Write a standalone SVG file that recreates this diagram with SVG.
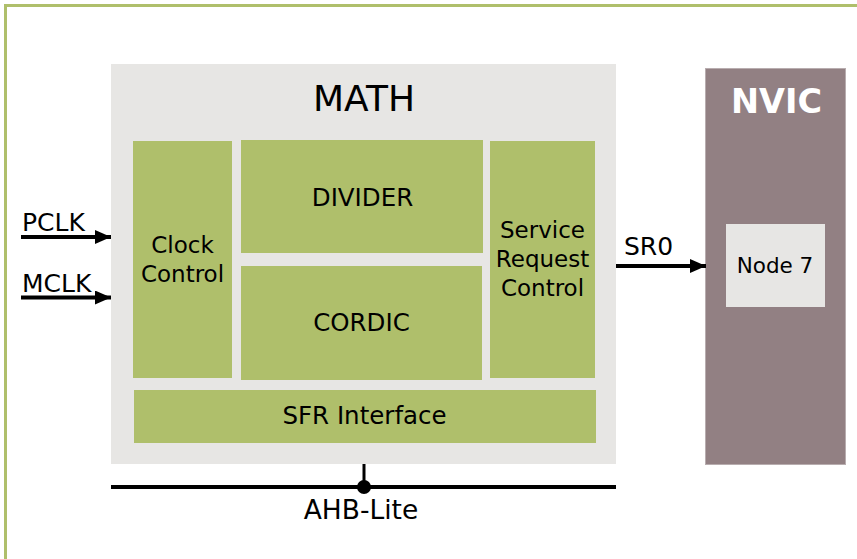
<svg xmlns="http://www.w3.org/2000/svg" width="857" height="559" viewBox="0 0 857 559">
  <defs>
    <style>
      text { font-family: "DejaVu Sans", Verdana, sans-serif; fill: #000; }
      .blk { fill: #afbf6b; }
      .lbl { font-size: 23px; text-anchor: middle; }
      .cap { font-size: 24.5px; text-anchor: middle; }
      .sig { font-size: 25px; }
      .wire { stroke: #000; stroke-width: 4; fill: none; }
    </style>
    <marker id="arrow" viewBox="0 0 16 14" refX="16" refY="7" markerWidth="16" markerHeight="14" markerUnits="userSpaceOnUse" orient="auto">
      <path d="M0,0 L16,7 L0,14 Z" fill="#000"/>
    </marker>
  </defs>

  <rect width="857" height="559" fill="#fff"/>
  <!-- outer frame -->
  <rect x="5.5" y="5.5" width="870" height="580" fill="none" stroke="#afbf6b" stroke-width="3"/>

  <!-- MATH module -->
  <g id="math">
    <rect x="111" y="64" width="505" height="400" fill="#e7e6e4"/>
    <text x="364" y="111" style="font-size:36px" text-anchor="middle">MATH</text>
  </g>

  <g id="clock-control">
    <rect class="blk" x="133" y="141" width="99" height="237"/>
    <text class="lbl" x="182.5" y="253">Clock</text>
    <text class="lbl" x="182.5" y="281.5">Control</text>
  </g>

  <g id="divider">
    <rect class="blk" x="241" y="140" width="242" height="113"/>
    <text class="cap" x="362.5" y="206">DIVIDER</text>
  </g>

  <g id="cordic">
    <rect class="blk" x="241" y="266" width="241" height="114"/>
    <text class="cap" x="361.5" y="331">CORDIC</text>
  </g>

  <g id="service-request-control">
    <rect class="blk" x="490" y="141" width="105" height="237"/>
    <text class="lbl" x="542.5" y="238">Service</text>
    <text class="lbl" x="542.5" y="267">Request</text>
    <text class="lbl" x="542.5" y="296">Control</text>
  </g>

  <g id="sfr-interface">
    <rect class="blk" x="134" y="390" width="462" height="53"/>
    <text class="cap" x="364.5" y="423.5">SFR Interface</text>
  </g>

  <!-- NVIC -->
  <g id="nvic">
    <rect x="705.5" y="68.5" width="140" height="396" fill="#928083" stroke="#b8adaf" stroke-width="1"/>
    <text x="776.5" y="113" style="font-size:33.5px;font-weight:bold;fill:#fff" text-anchor="middle">NVIC</text>
  </g>

  <g id="node7">
    <rect x="726" y="224" width="99" height="83" fill="#e7e6e4"/>
    <text x="775" y="273" style="font-size:21.5px" text-anchor="middle">Node 7</text>
  </g>

  <!-- signals and bus -->
  <g id="connectors">
    <line class="wire" x1="21" y1="237" x2="111" y2="237" marker-end="url(#arrow)"/>
    <line class="wire" x1="21" y1="297.5" x2="111" y2="297.5" marker-end="url(#arrow)"/>
    <line class="wire" x1="616" y1="266" x2="706" y2="266" marker-end="url(#arrow)"/>
    <line class="wire" x1="111" y1="487" x2="616" y2="487"/>
    <line x1="364" y1="464" x2="364" y2="487" stroke="#000" stroke-width="3"/>
    <circle cx="364" cy="487" r="7" fill="#000"/>
  </g>

  <g id="labels">
    <text class="sig" x="22" y="230.5">PCLK</text>
    <text class="sig" x="22" y="291.5">MCLK</text>
    <text class="sig" x="624" y="255">SR0</text>
    <text class="sig" x="361" y="518.5" text-anchor="middle" style="font-size:26.5px">AHB-Lite</text>
  </g>
</svg>
